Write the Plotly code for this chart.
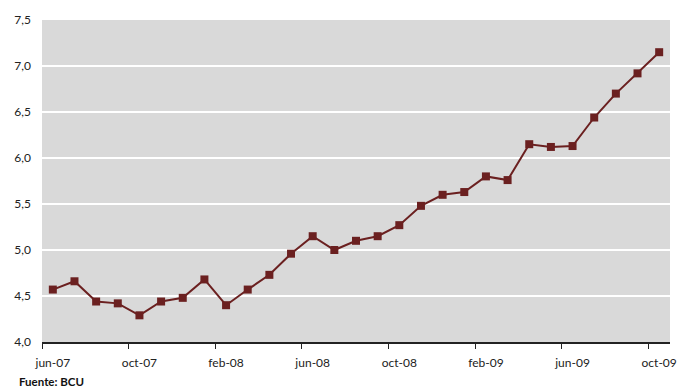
import plotly.graph_objects as go

months = ["jun-07","jul-07","ago-07","sep-07","oct-07","nov-07","dic-07",
          "ene-08","feb-08","mar-08","abr-08","may-08","jun-08","jul-08","ago-08","sep-08","oct-08","nov-08","dic-08",
          "ene-09","feb-09","mar-09","abr-09","may-09","jun-09","jul-09","ago-09","sep-09","oct-09"]
values = [4.57, 4.66, 4.44, 4.42, 4.29, 4.44, 4.48,
          4.68, 4.40, 4.57, 4.73, 4.96, 5.15, 5.00, 5.10, 5.15, 5.27, 5.48, 5.60,
          5.63, 5.80, 5.76, 6.15, 6.12, 6.13, 6.44, 6.70, 6.92, 7.15]
y_ticks = [4.0, 4.5, 5.0, 5.5, 6.0, 6.5, 7.0, 7.5]
source_text = "Fuente: BCU"

color = "#6B2020"
font = "Lato, 'Open Sans', sans-serif"

fig = go.Figure()
fig.add_trace(go.Scatter(
    x=months, y=values, mode="lines+markers",
    line=dict(color=color, width=2),
    marker=dict(symbol="square", size=8, color=color),
    showlegend=False, hoverinfo="skip"))

fig.update_layout(
    width=678, height=389,
    margin=dict(l=42, r=8, t=20, b=47),
    paper_bgcolor="white", plot_bgcolor="#D9D9D9",
    separators=",.",
    font=dict(family=font, size=12, color="#222222"),
    xaxis=dict(type="category", tickmode="linear", tick0=0, dtick=4,
               tickson="boundaries", ticks="outside", ticklen=5, tickcolor="#222222",
               tickangle=0, automargin=False, ticklabelstandoff=9,
               showline=True, linecolor="#222222", linewidth=1.5,
               showgrid=False, range=[-0.5, 28.5], zeroline=False),
    yaxis=dict(range=[4.0, 7.5], tickvals=y_ticks, tickformat=".1f", automargin=False,
               showgrid=True, gridcolor="white", gridwidth=1.5,
               showline=False, zeroline=False, ticks="", ticklabelstandoff=10),
    annotations=[dict(text="<b>" + source_text + "</b>", xref="paper", yref="paper",
                      x=-0.04, y=-0.15, xanchor="left", yanchor="bottom",
                      showarrow=False, font=dict(size=11.5, color="#111111"))],
)
fig.write_html("out.html")
